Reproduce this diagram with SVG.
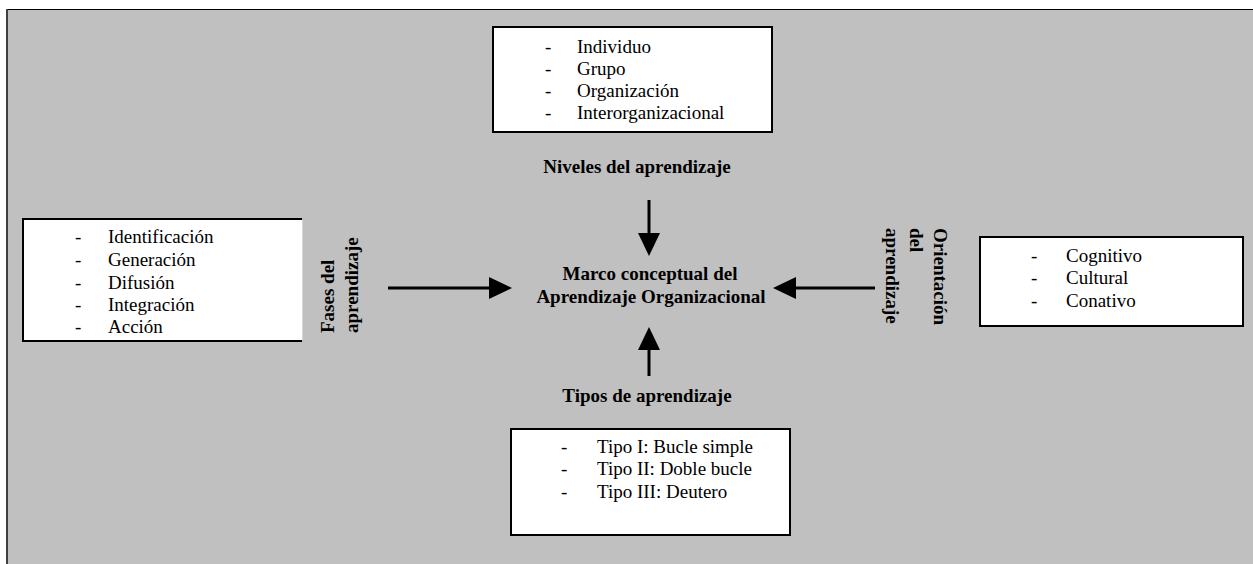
<svg xmlns="http://www.w3.org/2000/svg" width="1253" height="564" viewBox="0 0 1253 564">
<style>
.box{fill:#ffffff;stroke:#000000;stroke-width:2}
.edge{fill:none;stroke:#000000;stroke-width:2}
.t{font-family:"Liberation Serif","Times New Roman",serif;font-size:19px;fill:#000000}
.b{font-family:"Liberation Serif","Times New Roman",serif;font-size:19px;font-weight:bold;fill:#000000}
.c{text-anchor:middle}
.conn{stroke:#000000;stroke-width:3;fill:none}
</style>
<defs>
<marker id="ah" markerUnits="userSpaceOnUse" markerWidth="24" markerHeight="22" refX="0" refY="11" orient="auto" viewBox="0 0 24 22">
<path d="M0,0 L23,11 L0,22 Z" fill="#000000"/>
</marker>
</defs>
<rect x="0" y="0" width="1253" height="564" fill="#ffffff"/>
<rect x="6" y="9" width="1247" height="555" fill="#C0C0C0"/>
<line x1="6" y1="9.5" x2="1253" y2="9.5" stroke="#000000" stroke-width="1"/>
<line x1="7" y1="9" x2="7" y2="564" stroke="#404040" stroke-width="2"/>

<g id="niveles">
<rect class="box" x="493" y="27" width="279" height="105"/>
<text class="t"><tspan x="545" y="53">-</tspan><tspan x="577" y="53">Individuo</tspan></text>
<text class="t"><tspan x="545" y="75">-</tspan><tspan x="577" y="75">Grupo</tspan></text>
<text class="t"><tspan x="545" y="97">-</tspan><tspan x="577" y="97">Organización</tspan></text>
<text class="t"><tspan x="545" y="119">-</tspan><tspan x="577" y="119">Interorganizacional</tspan></text>
<text class="b c" x="637" y="173">Niveles del aprendizaje</text>
</g>

<g id="fases">
<rect x="23" y="219" width="279" height="122" fill="#ffffff"/>
<path class="edge" d="M302,219 H23 V341 H302"/>
<line x1="302.5" y1="220" x2="302.5" y2="340" stroke="#d8d8d8" stroke-width="1"/>
<text class="t"><tspan x="75" y="243">-</tspan><tspan x="108" y="243">Identificación</tspan></text>
<text class="t"><tspan x="75" y="266">-</tspan><tspan x="108" y="266">Generación</tspan></text>
<text class="t"><tspan x="75" y="289">-</tspan><tspan x="108" y="289">Difusión</tspan></text>
<text class="t"><tspan x="75" y="311">-</tspan><tspan x="108" y="311">Integración</tspan></text>
<text class="t"><tspan x="75" y="333">-</tspan><tspan x="108" y="333">Acción</tspan></text>
<text class="b" transform="translate(334,333) rotate(-90)"><tspan x="0" y="0">Fases del</tspan><tspan x="0" y="24">aprendizaje</tspan></text>
</g>

<g id="marco">
<text class="b c" x="650" y="280">Marco conceptual del</text>
<text class="b c" x="651" y="303">Aprendizaje Organizacional</text>
</g>

<g id="orientacion">
<rect class="box" x="980" y="237" width="263" height="89"/>
<text class="t"><tspan x="1031" y="262">-</tspan><tspan x="1066" y="262">Cognitivo</tspan></text>
<text class="t"><tspan x="1031" y="284">-</tspan><tspan x="1066" y="284">Cultural</tspan></text>
<text class="t"><tspan x="1031" y="307">-</tspan><tspan x="1066" y="307">Conativo</tspan></text>
<text class="b" transform="translate(934,228) rotate(90)"><tspan x="0" y="0">Orientación</tspan><tspan x="0" y="24">del</tspan><tspan x="0" y="48">aprendizaje</tspan></text>
</g>

<g id="tipos">
<text class="b c" x="647" y="402">Tipos de aprendizaje</text>
<rect class="box" x="511" y="429" width="279" height="106"/>
<text class="t"><tspan x="561" y="453">-</tspan><tspan x="597" y="453">Tipo I: Bucle simple</tspan></text>
<text class="t"><tspan x="561" y="475">-</tspan><tspan x="597" y="475">Tipo II: Doble bucle</tspan></text>
<text class="t"><tspan x="561" y="498">-</tspan><tspan x="597" y="498">Tipo III: Deutero</tspan></text>
</g>

<g id="connectors">
<line class="conn" x1="649" y1="200" x2="649" y2="233" marker-end="url(#ah)"/>
<line class="conn" x1="649" y1="376" x2="649" y2="350" marker-end="url(#ah)"/>
<line class="conn" x1="388" y1="288" x2="489" y2="288" marker-end="url(#ah)"/>
<line class="conn" x1="875" y1="288" x2="796" y2="288" marker-end="url(#ah)"/>
</g>
</svg>
